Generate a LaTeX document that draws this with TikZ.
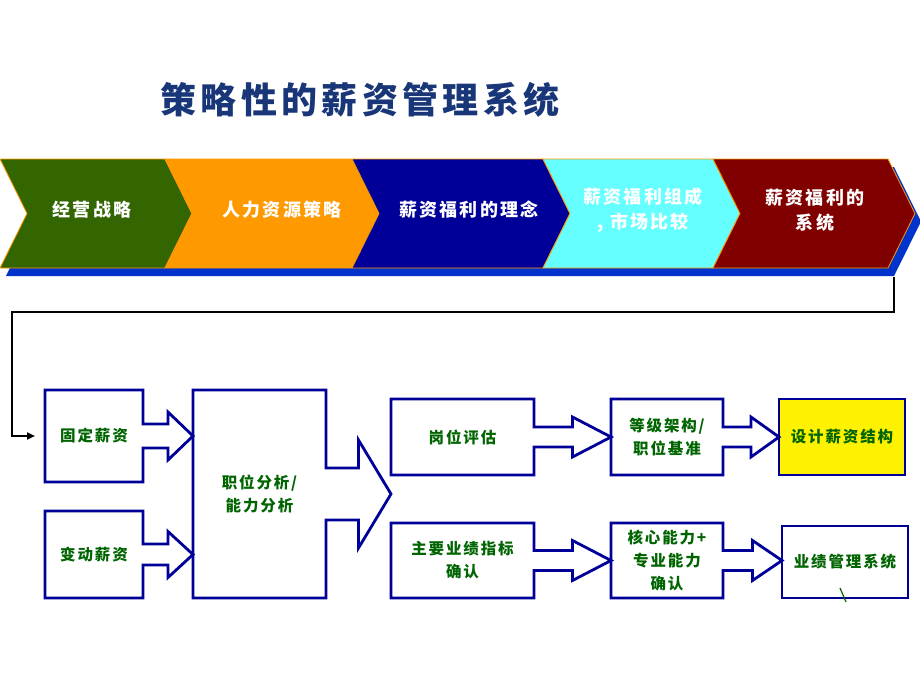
\documentclass[tikz,border=0pt]{standalone}
\usepackage{fontspec}
\newfontfamily\cjk{Noto Sans CJK SC}[LetterSpace=12]
\usetikzlibrary{calc, arrows.meta}
\usepackage{xcolor}
\definecolor{boxblue}{RGB}{0,0,153}
\definecolor{textgreen}{RGB}{0,100,0}
\definecolor{titleblue}{RGB}{25,55,120}
\definecolor{shadowblue}{RGB}{0,51,204}
\definecolor{stepgreen}{RGB}{51,102,0}
\definecolor{steporange}{RGB}{255,153,0}
\definecolor{stepnavy}{RGB}{0,0,153}
\definecolor{stepcyan}{RGB}{102,255,255}
\definecolor{stepred}{RGB}{128,0,0}

\begin{document}
\begin{tikzpicture}[x=1pt, y=-1pt]
	\tikzstyle{box}=[
	rectangle,
	inner sep=0pt,
	outer sep=0pt,
	align=center,
	text=textgreen,
	font=\cjk\bfseries\fontsize{15.5}{23}\selectfont
	]
	\tikzstyle{outline}=[draw=boxblue, line width=2.8pt]
	\tikzstyle{steptext}=[align=center, text=white, font=\cjk\bfseries\fontsize{18}{25}\selectfont]
	\tikzstyle{link}=[draw=black, line width=2pt, -{Triangle[length=8pt, width=7pt]}]
	\useasboundingbox (0,0) rectangle (920,690);
	%
	\node[text=titleblue, font=\cjk\bfseries\fontsize{36}{40}\selectfont] (title) at (360,100) {策略性的薪资管理系统};
	% chevron band
	\fill[shadowblue] (6,167) -- (894,167) -- (921,221.5) -- (894,276) -- (6,276) -- (33,221.5) -- cycle;
	\foreach \l/\r/\col in {0/165/stepgreen, 165/352/steporange, 352/543/stepnavy, 543/713/stepcyan, 713/888/stepred}
		\filldraw[fill=\col, draw=steporange, line width=0.8pt] (\l,159) -- (\r,159) -- (\r+27,213.5) -- (\r,268) -- (\l,268) -- (\l+27,213.5) -- cycle;
	\node[steptext] (s1) at (92,210) {经营战略};
	\node[steptext] (s2) at (282,210) {人力资源策略};
	\node[steptext] (s3) at (469,210) {薪资福利的理念};
	\node[steptext] (s4) at (643,210) {薪资福利组成\\, 市场比较};
	\node[steptext] (s5) at (815,210) {薪资福利的\\系统};
	\coordinate (out) at (894,277);
	%
	\node[box, minimum width=98, minimum height=92] (fixed) at (94,436) {固定薪资};
	\node[box, minimum width=98, minimum height=87] (variable) at (94,554.5) {变动薪资};
	\node[box, minimum width=133, minimum height=208] (analysis) at (259.5,494) {职位分析/\\能力分析};
	\node[box, minimum width=143, minimum height=76] (evaluation) at (462.5,437) {岗位评估};
	\node[box, minimum width=112, minimum height=76] (grade) at (667,437) {等级架构/\\职位基准};
	\node[box, outline, fill=yellow, minimum width=126, minimum height=76] (structure) at (842,437) {设计薪资结构};
	\node[box, minimum width=143, minimum height=75] (kpi) at (462.5,560.5) {主要业绩指标\\确认};
	\node[box, minimum width=112, minimum height=75] (competency) at (667,560.5) {核心能力+\\专业能力\\确认};
	\node[box, outline, minimum width=126, minimum height=72] (performance) at (845,562) {业绩管理系统};
	% boxes with block arrows
	\foreach \a/\b/\s/\h in {fixed/analysis/12/24, variable/analysis/10.5/23, analysis/evaluation/26/54, evaluation/grade/10/20, grade/structure/10/20, kpi/competency/10/20, competency/performance/10/20}
	{
		\coordinate (tip) at (\b.west |- \a.east);
		\coordinate (base) at ($(\a.east)!.5!(tip)$);
		\draw[outline] (\a.south east) -- (\a.south west) -- (\a.north west) -- (\a.north east) -- ([yshift=\s]\a.east) -- ([yshift=\s]base) -- ([yshift=\h]base) -- (tip) -- ([yshift=-\h]base) -- ([yshift=-\s]base) -- ([yshift=-\s]\a.east) -- cycle;
	}
	%
	\coordinate (corner) at (12,312);
	\draw[link, shorten >=10pt] (out) |- (corner) |- (fixed.west);
	\draw[textgreen, line width=1.2pt] ([xshift=-5pt, yshift=10pt]performance.south) -- ([xshift=1pt, yshift=-4pt]performance.south);
\end{tikzpicture}
\end{document}
